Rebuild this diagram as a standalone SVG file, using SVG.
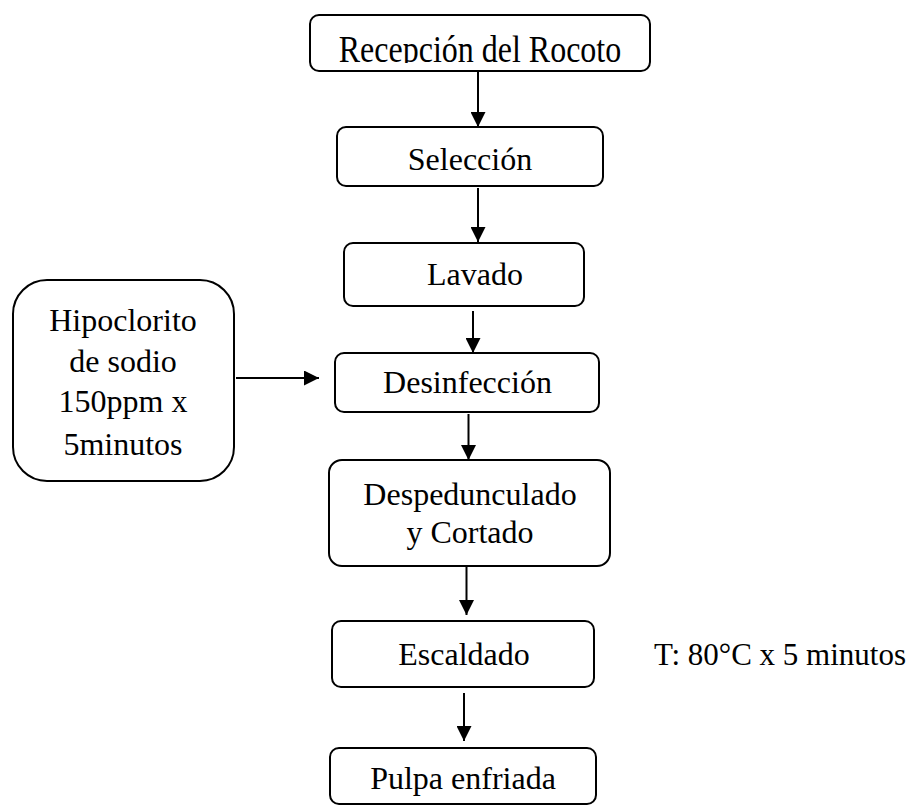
<svg xmlns="http://www.w3.org/2000/svg" width="914" height="809" viewBox="0 0 914 809">
<style>
.box{fill:#fff;stroke:#000;stroke-width:2}
.t{font-family:"Liberation Serif","Times New Roman",serif;font-size:32px;fill:#000;text-anchor:middle}
.c{stroke:#000;stroke-width:2;fill:none}
</style>
<defs>
<marker id="ah" viewBox="0 0 15 15" refX="15" refY="7.5" markerWidth="15" markerHeight="15" markerUnits="userSpaceOnUse" orient="auto">
<path d="M0,0 L15,7.5 L0,15 Z" fill="#000"/>
</marker>
<clipPath id="clip1"><rect x="310" y="15" width="340" height="48"/></clipPath>
</defs>
<rect width="914" height="809" fill="#fff"/>
<g id="n1">
<rect class="box" x="310" y="15" width="340" height="56" rx="9"/>
<g clip-path="url(#clip1)"><text class="t" transform="translate(480,62) scale(1,1.2)" x="0" y="0">Recepción del Rocoto</text></g>
</g>
<g id="n2">
<rect class="box" x="337" y="127" width="266" height="59" rx="9"/>
<text class="t" x="470" y="170">Selección</text>
</g>
<g id="n3">
<rect class="box" x="344" y="243" width="240" height="63" rx="9"/>
<text class="t" x="475" y="285">Lavado</text>
</g>
<g id="n4">
<rect class="box" x="335" y="353" width="264" height="59" rx="9"/>
<text class="t" x="467.5" y="393">Desinfección</text>
</g>
<g id="n5">
<rect class="box" x="329" y="460" width="281" height="106" rx="13"/>
<text class="t" x="470" y="505">Despedunculado</text>
<text class="t" x="470" y="543">y Cortado</text>
</g>
<g id="n6">
<rect class="box" x="332" y="621" width="262" height="66" rx="9"/>
<text class="t" x="464" y="665">Escaldado</text>
</g>
<g id="n7">
<rect class="box" x="330" y="748" width="266" height="56" rx="9"/>
<text class="t" x="463" y="789">Pulpa enfriada</text>
</g>
<g id="n8">
<rect class="box" x="13" y="280" width="221" height="201" rx="34"/>
<text class="t" x="123" y="331">Hipoclorito</text>
<text class="t" x="123" y="372">de sodio</text>
<text class="t" x="123" y="412">150ppm x</text>
<text class="t" x="123" y="455">5minutos</text>
</g>
<g id="note">
<text class="t" x="654" y="665" style="text-anchor:start;font-size:31px">T: 80°C x 5 minutos</text>
</g>
<g id="connectors">
<line class="c" x1="478" y1="71" x2="478" y2="127" marker-end="url(#ah)"/>
<line class="c" x1="478" y1="188" x2="478" y2="242" marker-end="url(#ah)"/>
<line class="c" x1="473" y1="311" x2="473" y2="353" marker-end="url(#ah)"/>
<line class="c" x1="468.5" y1="414" x2="468.5" y2="460" marker-end="url(#ah)"/>
<line class="c" x1="466.5" y1="566" x2="466.5" y2="615" marker-end="url(#ah)"/>
<line class="c" x1="464" y1="693" x2="464" y2="741" marker-end="url(#ah)"/>
<line class="c" x1="236" y1="378" x2="319" y2="378" marker-end="url(#ah)"/>
</g>
</svg>
